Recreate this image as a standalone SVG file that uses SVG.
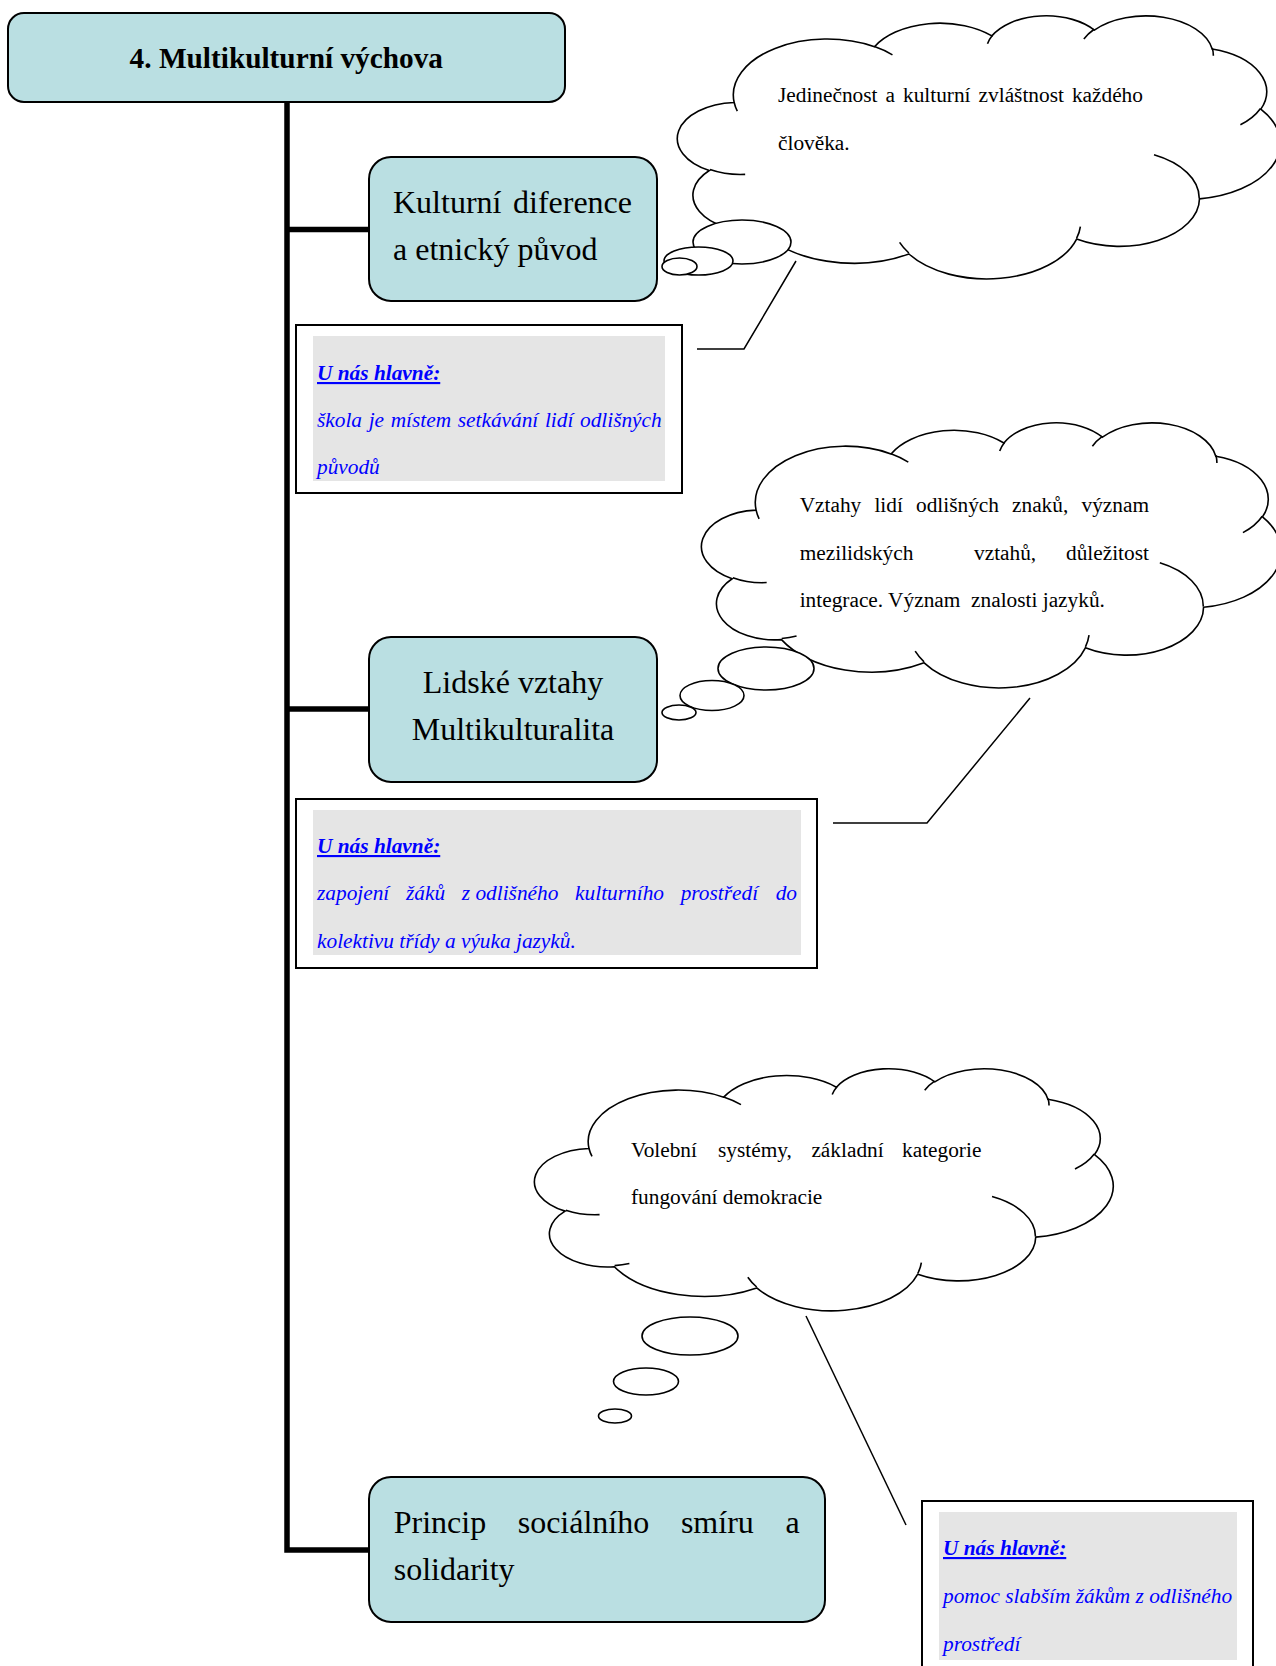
<svg xmlns="http://www.w3.org/2000/svg" width="1276" height="1666" viewBox="0 0 1276 1666">
<style>
.box{fill:#badfe2;stroke:#000;stroke-width:2}
.note{fill:#fff;stroke:#000;stroke-width:2}
.grey{fill:#e5e5e5}
.serif{font-family:"Liberation Serif","Times New Roman",serif}
.big{font-size:32px;fill:#000}
.title{font-size:29.3px;font-weight:bold;fill:#000}
.ct{font-size:21.33px;fill:#000}
.bt{font-size:21.33px;font-style:italic;fill:#0000ff}
.bh{font-weight:bold;text-decoration:underline}
.cloud{fill:#fff;stroke:#000;stroke-width:1.6}
.inner{fill:none;stroke:#000;stroke-width:1.6}
.bub{fill:#fff;stroke:#000;stroke-width:1.6}
.trunk{fill:none;stroke:#000;stroke-width:5.5}
.call{fill:none;stroke:#000;stroke-width:1.5}
</style>
<defs>
<path id="cs" vector-effect="non-scaling-stroke" d="M90.3,332.6 A156.3,212.7 0 0 1 324.2,120.4 A123.4,168.2 0 0 1 519.8,79.4 A101,137.6 0 0 1 690.6,57.4 A112.4,152.7 0 0 1 887,129 A123.4,168.4 0 0 1 968,357.8 A156.8,213.4 0 0 1 865.8,699 A133.9,182.1 0 0 1 661,852.1 A156.3,213.3 0 0 1 381.5,908.8 A178.7,244.1 0 0 1 134.3,821.1 A100.9,137 0 0 1 48.8,591.4 A100.6,137.6 0 0 1 90.3,332.6 Z"/>
<path id="ci" vector-effect="non-scaling-stroke" d="M108.6,605.9 A100.6,137.6 0 0 1 50,587.5 M160.4,807.9 A100.9,137 0 0 1 134.7,816.7 M381.4,904.9 A156.3,213.3 0 0 1 366,864.6 M667.3,804.4 A156.3,213.3 0 0 1 661.1,848.6 M790,531.3 A133.9,182.1 0 0 1 865.3,696.5 M967.5,355.4 A123.4,168.4 0 0 1 934,417.4 M887.1,125.6 A112.4,152.7 0 0 1 888.9,154.9 M673.1,91.5 A112.4,152.7 0 0 1 690.3,54.2 M512.5,109.3 A101,137.6 0 0 1 520.8,77.1 M324.1,120.2 A156.3,212.7 0 0 1 354.1,151.4 M95.5,365.5 A156.3,212.7 0 0 1 90.3,332.6"/>
</defs>

<g id="connectors">
<path class="trunk" d="M287,102 V1550 H369"/>
<path class="trunk" d="M287,229.5 H369"/>
<path class="trunk" d="M287,709 H369"/>
<polyline class="call" points="796,261 744,349 697,349"/>
<polyline class="call" points="1030,698 927,823 833,823"/>
<polyline class="call" points="806,1316 906,1525"/>
</g>

<g id="title">
<rect class="box" x="8" y="13" width="557" height="89" rx="16"/>
<text class="serif title" x="286.3" y="68" text-anchor="middle">4. Multikulturní výchova</text>
</g>

<g id="node-kulturni">
<rect class="box" x="369" y="157" width="288" height="144" rx="22"/>
<text class="serif big"><tspan x="393" y="213">Kulturní</tspan> <tspan x="513" y="213">diference</tspan><tspan x="393" y="260">a etnický původ</tspan></text>
</g>

<g id="note-kulturni">
<rect class="note" x="296" y="325" width="386" height="168"/>
<rect class="grey" x="313" y="336" width="352" height="145"/>
<text class="serif bt"><tspan class="bh" x="317" y="380">U nás hlavně:</tspan><tspan x="317" y="427" word-spacing="1.3">škola je místem setkávání lidí odlišných</tspan><tspan x="317" y="474">původů</tspan></text>
</g>

<g id="cloud-kulturni">
<use href="#cs" class="cloud" transform="translate(680,15) scale(0.6,0.263)"/>
<use href="#ci" class="inner" transform="translate(680,15) scale(0.6,0.263)"/>
<ellipse class="bub" cx="742" cy="242" rx="49" ry="22"/>
<ellipse class="bub" cx="698.5" cy="261" rx="34.5" ry="14"/>
<ellipse class="bub" cx="679.5" cy="266.5" rx="17.5" ry="8.5"/>
<text class="serif ct"><tspan x="778" y="102">Jedinečnost</tspan> <tspan x="885.5" y="102">a</tspan> <tspan x="903" y="102">kulturní</tspan> <tspan x="978.6" y="102">zvláštnost</tspan> <tspan x="1071.9" y="102">každého</tspan><tspan x="778" y="150">člověka.</tspan></text>
</g>

<g id="node-lidske">
<rect class="box" x="369" y="637" width="288" height="145" rx="22"/>
<text class="serif big" text-anchor="middle"><tspan x="513" y="693">Lidské vztahy</tspan><tspan x="513" y="740">Multikulturalita</tspan></text>
</g>

<g id="note-lidske">
<rect class="note" x="296" y="799" width="521" height="169"/>
<rect class="grey" x="313" y="810" width="488" height="145"/>
<text class="serif bt"><tspan class="bh" x="317" y="853">U nás hlavně:</tspan><tspan x="317" y="900">zapojení</tspan> <tspan x="406" y="900">žáků</tspan> <tspan x="461.8" y="900">z odlišného</tspan> <tspan x="575.1" y="900">kulturního</tspan> <tspan x="680.7" y="900">prostředí</tspan> <tspan x="775.7" y="900">do</tspan><tspan x="317" y="948">kolektivu třídy a výuka jazyků.</tspan></text>
</g>

<g id="cloud-lidske">
<use href="#cs" class="cloud" transform="translate(704,422) scale(0.577,0.265)"/>
<use href="#ci" class="inner" transform="translate(704,422) scale(0.577,0.265)"/>
<ellipse class="bub" cx="766" cy="668.5" rx="48" ry="21.5"/>
<ellipse class="bub" cx="712" cy="695.5" rx="32" ry="15"/>
<ellipse class="bub" cx="679" cy="712.5" rx="17" ry="7.5"/>
<text class="serif ct"><tspan x="799.7" y="511.7">Vztahy</tspan> <tspan x="874.4" y="511.7">lidí</tspan> <tspan x="916" y="511.7">odlišných</tspan> <tspan x="1012" y="511.7">znaků,</tspan> <tspan x="1081.5" y="511.7">význam</tspan><tspan x="799.7" y="559.5">mezilidských</tspan> <tspan x="974" y="559.5">vztahů,</tspan> <tspan x="1066" y="559.5">důležitost</tspan></text>
<text class="serif ct" x="799.7" y="607" xml:space="preserve">integrace. Význam  znalosti jazyků.</text>
</g>

<g id="cloud-demokracie">
<use href="#cs" class="cloud" transform="translate(537,1068) scale(0.576,0.242)"/>
<use href="#ci" class="inner" transform="translate(537,1068) scale(0.576,0.242)"/>
<ellipse class="bub" cx="690" cy="1336" rx="48" ry="19"/>
<ellipse class="bub" cx="646" cy="1381.5" rx="32.5" ry="13.5"/>
<ellipse class="bub" cx="615" cy="1416" rx="16.5" ry="7"/>
<text class="serif ct"><tspan x="631" y="1156.5">Volební</tspan> <tspan x="718" y="1156.5">systémy,</tspan> <tspan x="811.4" y="1156.5">základní</tspan> <tspan x="902" y="1156.5">kategorie</tspan><tspan x="631" y="1203.5">fungování demokracie</tspan></text>
</g>

<g id="node-princip">
<rect class="box" x="369" y="1477" width="456" height="145" rx="22"/>
<text class="serif big"><tspan x="393.7" y="1533">Princip</tspan> <tspan x="517.7" y="1533">sociálního</tspan> <tspan x="680.9" y="1533">smíru</tspan> <tspan x="785.4" y="1533">a</tspan><tspan x="393.7" y="1580">solidarity</tspan></text>
</g>

<g id="note-princip">
<rect class="note" x="922" y="1501" width="331" height="190"/>
<rect class="grey" x="939" y="1512" width="298" height="148"/>
<text class="serif bt"><tspan class="bh" x="943" y="1555">U nás hlavně:</tspan><tspan x="943" y="1603">pomoc slabším žákům z odlišného</tspan><tspan x="943" y="1651">prostředí</tspan></text>
</g>
</svg>
